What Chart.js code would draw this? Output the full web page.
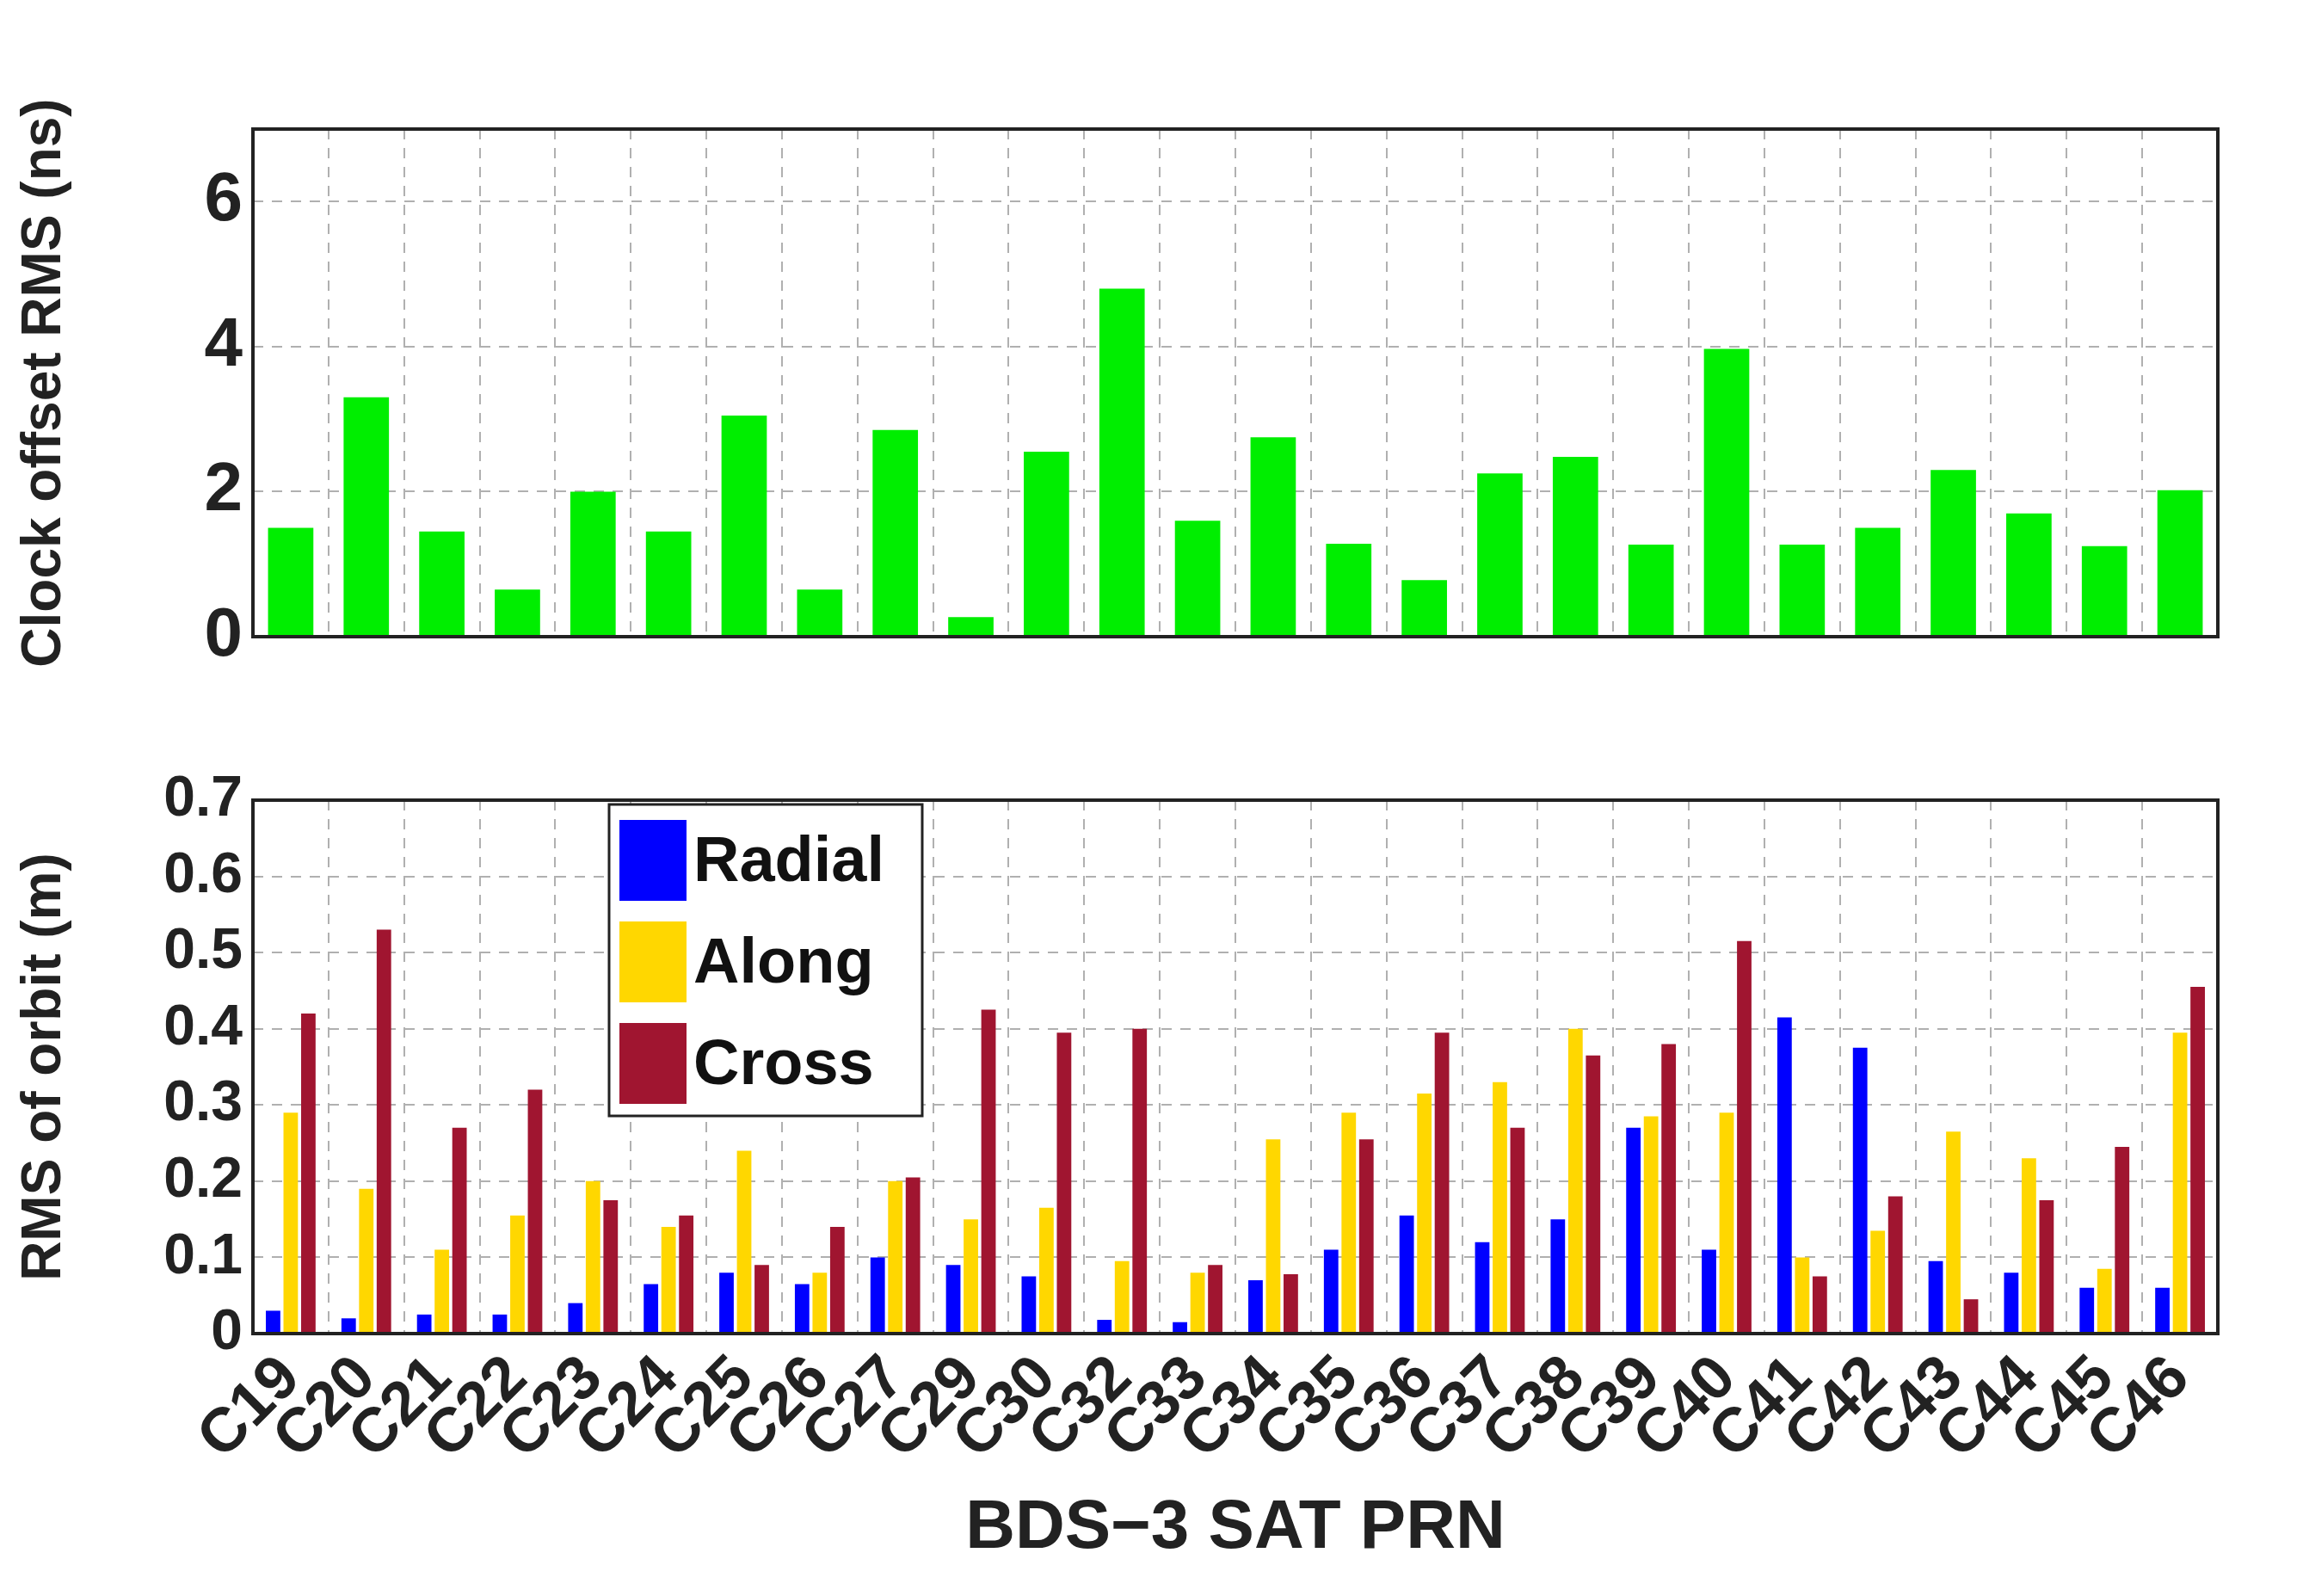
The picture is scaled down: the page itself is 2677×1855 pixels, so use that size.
<!DOCTYPE html>
<html>
<head>
<meta charset="utf-8">
<script src="https://cdn.jsdelivr.net/npm/chart.js@4"></script>
<style>
  body { margin: 0; background: #fff; }
  #top { position: absolute; left: 0; top: 0; width: 2677px; height: 800px; }
  #bot { position: absolute; left: 0; top: 800px; width: 2677px; height: 1055px; }
</style>
</head>
<body>
<div id="top"><canvas id="clockChart"></canvas></div>
<div id="bot"><canvas id="orbitChart"></canvas></div>
<script>
const prns = ["C19","C20","C21","C22","C23","C24","C25","C26","C27","C29","C30","C32","C33",
              "C34","C35","C36","C37","C38","C39","C40","C41","C42","C43","C44","C45","C46"];
const clockRms = [1.5,3.3,1.45,0.65,2.0,1.45,3.05,0.65,2.85,0.27,2.55,4.8,1.6,
                  2.75,1.28,0.78,2.25,2.48,1.27,3.97,1.27,1.5,2.3,1.7,1.25,2.02];
const radial = [0.03,0.02,0.025,0.025,0.04,0.065,0.08,0.065,0.10,0.09,0.075,0.018,0.015,
                0.07,0.11,0.155,0.12,0.15,0.27,0.11,0.415,0.375,0.095,0.08,0.06,0.06];
const along = [0.29,0.19,0.11,0.155,0.20,0.14,0.24,0.08,0.20,0.15,0.165,0.095,0.08,
               0.255,0.29,0.315,0.33,0.40,0.285,0.29,0.10,0.135,0.265,0.23,0.085,0.395];
const cross = [0.42,0.53,0.27,0.32,0.175,0.155,0.09,0.14,0.205,0.425,0.395,0.40,0.09,
               0.078,0.255,0.395,0.27,0.365,0.38,0.515,0.075,0.18,0.045,0.175,0.245,0.455];

Chart.defaults.font.family = "'Liberation Sans', Arial, sans-serif";
Chart.defaults.font.weight = "bold";
Chart.defaults.color = "#222";
Chart.defaults.devicePixelRatio = 1;

const grid = { color: "#b0b0b0", lineWidth: 2, tickLength: 0, drawTicks: false };
const dash = { dash: [12, 10] };

// full black frame around the plot area
const frame = {
  id: "frame",
  afterDraw(chart) {
    const { ctx, chartArea: a } = chart;
    ctx.save();
    ctx.strokeStyle = "#222";
    ctx.lineWidth = 4;
    ctx.strokeRect(a.left, a.top, a.right - a.left, a.bottom - a.top);
    ctx.restore();
  }
};

// legend box drawn inside the lower plot
const legendBox = {
  id: "legendBox",
  afterDraw(chart) {
    const { ctx, chartArea: a } = chart;
    const x = a.left + 414, y = a.top + 5, w = 364, h = 362;
    ctx.save();
    ctx.fillStyle = "#fff";
    ctx.fillRect(x, y, w, h);
    ctx.strokeStyle = "#222";
    ctx.lineWidth = 3;
    ctx.strokeRect(x, y, w, h);
    ctx.font = "bold 74px 'Liberation Sans', Arial, sans-serif";
    ctx.textBaseline = "middle";
    chart.data.datasets.forEach((ds, i) => {
      const cy = y + 65 + i * 118;
      ctx.fillStyle = ds.backgroundColor;
      ctx.fillRect(x + 12, cy - 47, 78, 94);
      ctx.fillStyle = "#111";
      ctx.fillText(ds.label, x + 98, cy + 4);
    });
    ctx.restore();
  }
};

new Chart(document.getElementById("clockChart"), {
  type: "bar",
  data: {
    labels: prns,
    datasets: [{ label: "Clock", data: clockRms, backgroundColor: "#00ee00",
                 barPercentage: 0.6, categoryPercentage: 1 }]
  },
  options: {
    responsive: true, maintainAspectRatio: false, animation: false,
    layout: { padding: { top: 150, bottom: 44 - 8, left: 14, right: 99 } },
    plugins: { legend: { display: false }, tooltip: { enabled: false } },
    scales: {
      x: {
        grid: grid, border: { display: false, ...dash },
        ticks: { display: false },
        afterFit(s) { s.height = 0; }
      },
      y: {
        min: 0, max: 7,
        grid: grid, border: { display: false, ...dash },
        ticks: { stepSize: 1, font: { size: 80 }, padding: 12 },
        title: { display: true, text: "Clock offset RMS (ns)", font: { size: 64 }, padding: 0 },
        afterFit(s) { s.width = 280; }
      }
    }
  },
  plugins: [frame]
});

new Chart(document.getElementById("orbitChart"), {
  type: "bar",
  data: {
    labels: prns,
    datasets: [
      { label: "Radial", data: radial, backgroundColor: "#0000ff" },
      { label: "Along", data: along, backgroundColor: "#ffd700" },
      { label: "Cross", data: cross, backgroundColor: "#a01530" }
    ]
  },
  options: {
    responsive: true, maintainAspectRatio: false, animation: false,
    datasets: { bar: { categoryPercentage: 0.7, barPercentage: 0.82 } },
    layout: { padding: { top: 130, bottom: 30, left: 14, right: 99 } },
    plugins: { legend: { display: false }, tooltip: { enabled: false } },
    scales: {
      x: {
        grid: grid, border: { display: false, ...dash },
        ticks: { font: { size: 72 }, maxRotation: 45, minRotation: 45, padding: 10, autoSkip: false },
        title: { display: true, text: "BDS\u22123 SAT PRN", font: { size: 80 }, padding: 0 },
        afterFit(s) { s.height = 275; }
      },
      y: {
        min: 0, max: 0.7,
        grid: grid, border: { display: false, ...dash },
        ticks: { stepSize: 0.1, font: { size: 66 }, padding: 12,
                 callback: v => v === 0 ? "0" : v.toFixed(1) },
        title: { display: true, text: "RMS of orbit (m)", font: { size: 64 }, padding: 0 },
        afterFit(s) { s.width = 280; }
      }
    }
  },
  plugins: [frame, legendBox]
});
</script>
</body>
</html>
